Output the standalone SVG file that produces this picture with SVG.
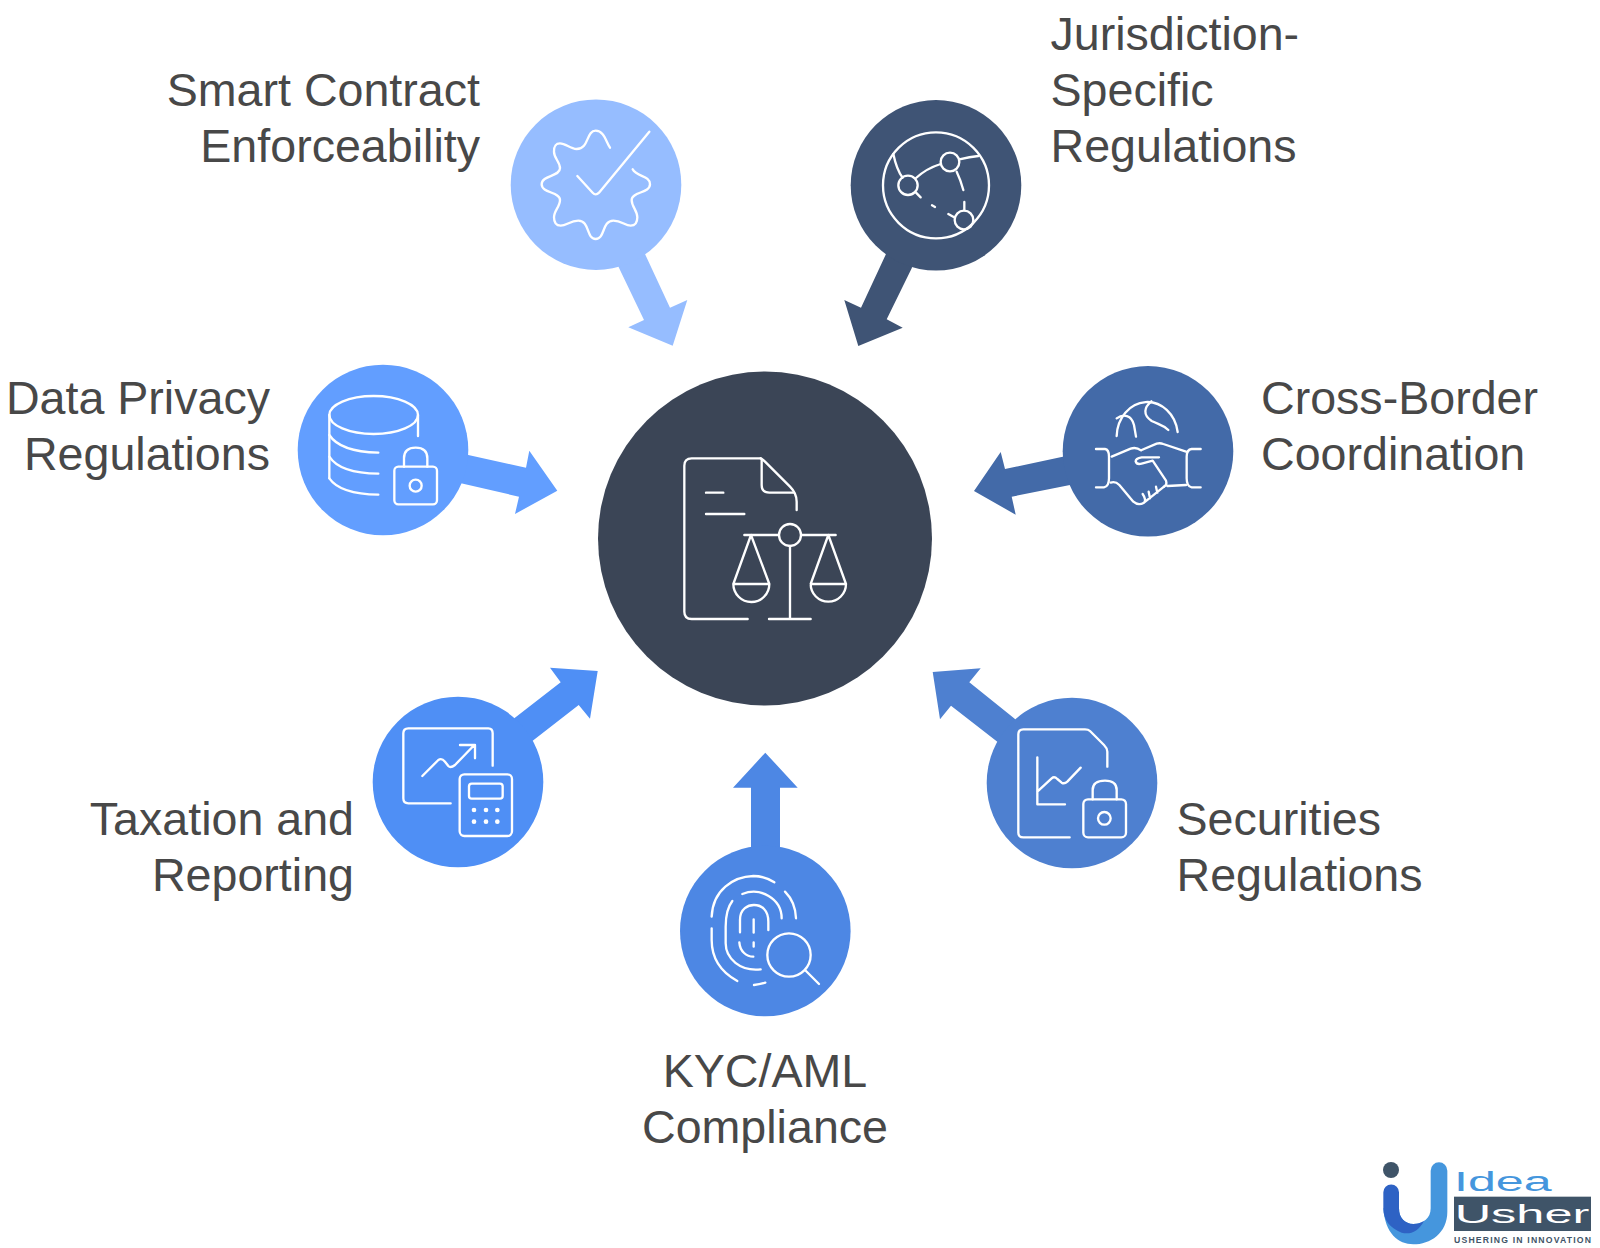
<svg xmlns="http://www.w3.org/2000/svg" width="1600" height="1248" viewBox="0 0 1600 1248">
<style>
.lbl{font-family:"Liberation Sans",Arial,sans-serif;font-size:46.6px;fill:#484848}
.r{text-anchor:end}
.m{text-anchor:middle}
.ic{fill:none;stroke:#fff;stroke-width:7;stroke-linecap:round;stroke-linejoin:round}
.logo{font-family:"Liberation Sans",Arial,sans-serif}
</style>
<rect width="1600" height="1248" fill="#fff"/>
<g id="connectors">
<polygon fill="#96BDFF" points="596,185 645,254 670,307.700 687.300,300 672.700,345.700 628.300,327.300 644,320 618.700,267.300"/>
<polygon fill="#3F5475" points="936,185 886,254 861,307.700 844.300,300 858.300,346 902.700,327.700 886.700,319.300 911.700,268.300"/>
<polygon fill="#629EFF" points="383,450 468.300,455 526,467.700 529.300,450.700 557.300,490.700 515,514 519,496.700 461,483.300"/>
<polygon fill="#436AA8" points="1148,451 1062.700,456.700 1005,469 1000.700,452 974,491 1015.700,514.700 1011.700,496.700 1070,485"/>
<polygon fill="#4F8FF5" points="458,782 514.300,718.300 560.700,682.300 550,667.700 597.700,671 590,718.700 578.700,705 532.700,740.700"/>
<polygon fill="#4E80D0" points="1072,783 1015,719 969.300,682.300 980.700,668.300 932.700,672 940,719.300 951,705.700 997.300,741.700"/>
<polygon fill="#4D87E4" points="751,870 751,787.700 733,787.700 765.300,752.700 797.700,787.700 780,787.700 780,870"/>
</g>
<g id="node-center">
<circle cx="765" cy="538.500" r="167" fill="#3B4556"/>
<g class="ic" transform="translate(640,430) scale(.33333)">
<path d="M362 85H155Q133 85 133 107V545Q133 567 155 567H323"/>
<path d="M362 85Q368 88 375 95L450 170Q470 190 470 215V240"/>
<path d="M365 90V165Q365 188 388 188H462"/>
<path d="M198 188H250M198 252H313"/>
<circle cx="450" cy="315" r="33"/>
<path d="M313 315H417M483 315H587M450 348V567M387 567H512"/>
<path d="M333 315L280 462H388ZM280 462A54 54 0 0 0 388 462"/>
<path d="M565 315L512 462H618ZM512 462A53 53 0 0 0 618 462"/>
</g>
</g>
<g id="node-smart-contract">
<circle cx="596" cy="184.700" r="85.300" fill="#96BDFF"/>
<g class="ic" transform="translate(480,80) scale(.33333)">
<path d="M390 203C378 185 372 152 347 152C318 152 328 207 290 207C270 207 258 190 240 190C222 190 222 205 222 215C222 235 240 245 240 265C240 290 185 285 185 313C185 340 240 335 240 360C240 380 222 392 222 412C222 425 225 437 242 437C260 437 270 422 295 422C330 422 318 477 347 477C376 477 365 422 400 422C425 422 435 437 452 437C468 437 472 425 472 412C472 392 455 380 455 360C455 335 510 340 510 313C510 285 470 292 458 268"/>
<path d="M292 288L338 338Q347 348 357 338L508 155"/>
</g>
<text class="lbl r" x="480" y="106">Smart Contract</text>
<text class="lbl r" x="480" y="162">Enforceability</text>
</g>
<g id="node-jurisdiction">
<circle cx="936" cy="185.300" r="85.300" fill="#3F5475"/>
<g class="ic" transform="translate(830,80) scale(.33333)">
<circle cx="318" cy="316" r="159"/>
<circle cx="234" cy="316" r="29"/>
<circle cx="360" cy="246" r="28"/>
<circle cx="402" cy="420" r="28"/>
<path d="M190 222Q200 270 218 293M258 294Q290 265 332 252M388 238Q420 230 445 228M380 275Q392 300 400 330M403 366V390M355 402L375 413M258 338L272 352M306 376L315 381"/>
</g>
<text class="lbl" x="1050.500" y="50">Jurisdiction-</text>
<text class="lbl" x="1050.500" y="106">Specific</text>
<text class="lbl" x="1050.500" y="162">Regulations</text>
</g>
<g id="node-data-privacy">
<circle cx="383" cy="450" r="85.300" fill="#629EFF"/>
<g class="ic" transform="translate(280,350) scale(.33333)">
<ellipse cx="281" cy="195" rx="133" ry="57"/>
<path d="M148 195V385M414 195V258"/>
<path d="M148 255Q180 305 295 308M148 320Q180 370 295 371M148 385Q180 432 295 434"/>
<rect x="343" y="350" width="128" height="113" rx="12"/>
<path d="M372 350V325Q372 293 407 293Q442 293 442 325V350"/>
<circle cx="407" cy="407" r="18"/>
</g>
<text class="lbl r" x="270" y="414">Data Privacy</text>
<text class="lbl r" x="270" y="470">Regulations</text>
</g>
<g id="node-cross-border">
<circle cx="1148" cy="451.300" r="85.300" fill="#436AA8"/>
<g class="ic" transform="translate(960,350) scale(.33333)">
<path d="M470 258A92 105 0 0 1 653 246"/>
<path d="M470 205C490 190 515 195 522 225L528 260"/>
<path d="M574 154C552 172 548 195 575 213C600 225 610 225 625 240"/>
<path d="M408 297H435Q447 299 447 320V385Q447 410 432 412H408"/>
<path d="M722 297H695Q680 299 680 320V385Q680 410 695 412H722"/>
<path d="M455 320L512 296Q528 290 543 301"/>
<path d="M545 300L590 281Q600 278 610 282L678 305"/>
<path d="M597 322H545Q527 325 527 334Q530 345 545 341L578 332L618 392Q622 405 612 410M622 408L678 405"/>
<path d="M452 398Q466 393 478 405L520 455Q535 468 552 458Q560 450 548 432M552 458L612 410M570 445L566 425M592 428L588 410"/>
</g>
<text class="lbl" x="1261" y="414">Cross-Border</text>
<text class="lbl" x="1261" y="470">Coordination</text>
</g>
<g id="node-taxation">
<circle cx="458" cy="782" r="85.300" fill="#4F8FF5"/>
<g class="ic" transform="translate(360,650) scale(.33333)">
<path d="M398 347V250Q398 235 385 235H145Q130 235 130 250V445Q130 460 145 460H272"/>
<path d="M187 378L235 330Q245 323 255 335L265 348Q272 355 285 345L343 285M300 285H345V325"/>
<rect x="299" y="373" width="157" height="185" rx="14"/>
<rect x="327" y="401" width="101" height="45" rx="8"/>
<g fill="#fff" stroke="none">
<circle cx="342" cy="480" r="7"/><circle cx="378" cy="480" r="7"/><circle cx="412" cy="480" r="7"/>
<circle cx="342" cy="515" r="7"/><circle cx="378" cy="515" r="7"/><circle cx="412" cy="515" r="7"/>
</g>
</g>
<text class="lbl r" x="354" y="834.500">Taxation and</text>
<text class="lbl r" x="354" y="890.500">Reporting</text>
</g>
<g id="node-securities">
<circle cx="1072" cy="783" r="85.300" fill="#4E80D0"/>
<g class="ic" transform="translate(920,650) scale(.33333)">
<path d="M562 350V305Q562 295 552 285L510 243Q505 238 495 238H310Q295 238 295 253V548Q295 562 310 562H449"/>
<path d="M352 322V463H435M352 425L395 385Q403 378 412 387L425 398Q433 403 442 395L482 353"/>
<rect x="490" y="448" width="128" height="114" rx="14"/>
<path d="M518 448V420Q518 392 555 392Q590 392 590 420V448"/>
<circle cx="553" cy="505" r="19"/>
</g>
<text class="lbl" x="1176.500" y="834.500">Securities</text>
<text class="lbl" x="1176.500" y="890.500">Regulations</text>
</g>
<g id="node-kyc">
<circle cx="765.300" cy="931" r="85.300" fill="#4D87E4"/>
<g class="ic" transform="translate(660,740) scale(.33333)">
<path d="M155 530C158 450 220 410 280 408C305 408 325 415 343 427"/>
<path d="M155 565V600C155 660 190 700 232 723"/>
<path d="M375 455C395 475 407 505 408 535"/>
<path d="M282 735Q300 733 316 728"/>
<path d="M247 462C300 440 365 475 365 535"/>
<path d="M217 483C200 505 197 530 197 560V610C197 655 240 695 302 688"/>
<path d="M240 577V540C240 505 265 495 282 495C305 495 325 510 325 545V570"/>
<path d="M281 538V578M281 607V620"/>
<path d="M238 607C240 635 260 650 280 650"/>
<circle cx="387" cy="645" r="65"/>
<path d="M435 690L477 732"/>
</g>
<text class="lbl m" x="765" y="1086.500">KYC/AML</text>
<text class="lbl m" x="765" y="1142.500">Compliance</text>
</g>
<g id="logo" transform="translate(1360,1140) scale(.33333)">
<circle cx="93" cy="90" r="24" fill="#3F5468"/>
<path fill="#4596DD" d="M212 92A25 25 0 0 1 262 92V215C262 280 210 313 160 313C115 313 75 280 70 205H117C117 235 135 252 160 252C190 252 212 235 212 205Z"/>
<path fill="#2E62C4" d="M70 157A23.500 23.500 0 0 1 117 157V205C117 235 135 252 160 252C170 252 180 250 192 243C175 275 150 285 125 278C90 265 70 240 70 205Z"/>
<rect x="282" y="170" width="411" height="103" fill="#3F5468"/>
<text class="logo" x="282" y="152" font-size="84" fill="#4596DD" textLength="293" lengthAdjust="spacingAndGlyphs">Idea</text>
<text class="logo" x="284" y="250" font-size="76" fill="#fff" textLength="404" lengthAdjust="spacingAndGlyphs">Usher</text>
<text class="logo" x="282" y="310" font-size="26" fill="#3F5468" font-weight="bold" textLength="411" lengthAdjust="spacing">USHERING IN INNOVATION</text>
</g>
</svg>
